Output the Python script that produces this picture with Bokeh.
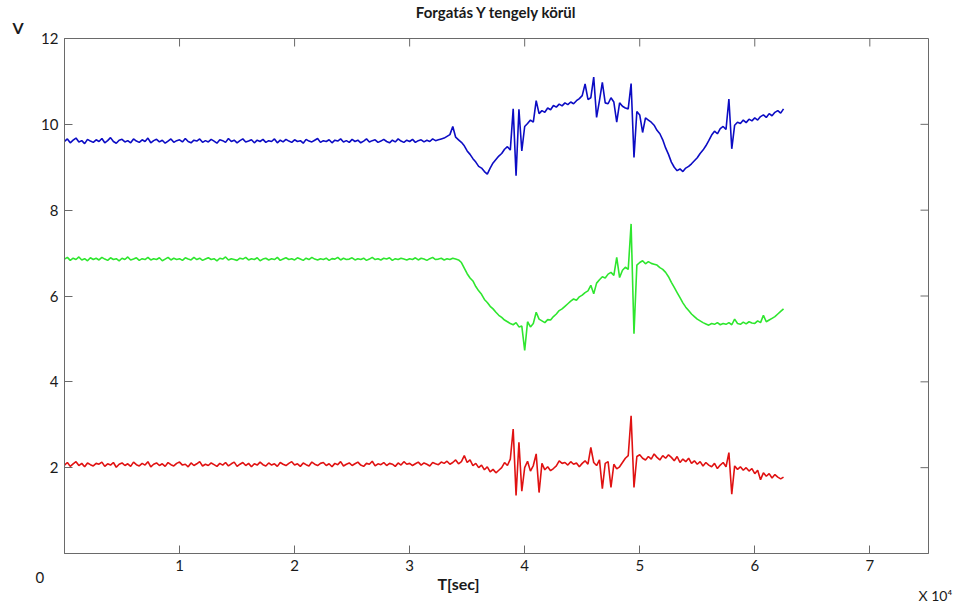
import numpy as np
from bokeh.plotting import figure
from bokeh.models import Range1d, FixedTicker, Title
from bokeh.embed import file_html
from bokeh.resources import INLINE

# sample times (x 10^4 sec), uniform sampling
t = np.round(np.arange(0, 6.2501, 0.025), 3)

blue_v = [
    9.60, 9.66, 9.57, 9.63, 9.68, 9.59, 9.62, 9.55, 9.65, 9.61,
    9.58, 9.64, 9.60, 9.67, 9.57, 9.62, 9.69, 9.60, 9.56, 9.63,
    9.65, 9.59, 9.62, 9.57, 9.66, 9.61, 9.58, 9.64, 9.60, 9.68,
    9.57, 9.62, 9.65, 9.59, 9.63, 9.56, 9.61, 9.66, 9.58, 9.62,
    9.64, 9.59, 9.67, 9.60, 9.57, 9.63, 9.61, 9.66, 9.58, 9.62,
    9.59, 9.65, 9.61, 9.56, 9.64, 9.62, 9.58, 9.67, 9.60, 9.63,
    9.57, 9.62, 9.66, 9.59, 9.61, 9.64, 9.57, 9.63, 9.60, 9.65,
    9.58, 9.62, 9.60, 9.66, 9.57, 9.63, 9.59, 9.65, 9.61, 9.58,
    9.64, 9.60, 9.62, 9.56, 9.65, 9.61, 9.59, 9.63, 9.67, 9.58,
    9.62, 9.60, 9.64, 9.57, 9.63, 9.61, 9.66, 9.59, 9.62, 9.58,
    9.65, 9.60, 9.63, 9.57, 9.61, 9.66, 9.59, 9.62, 9.64, 9.58,
    9.61, 9.65, 9.60, 9.57, 9.63, 9.59, 9.66, 9.61, 9.58, 9.63,
    9.60, 9.65, 9.58, 9.62, 9.64, 9.59, 9.63, 9.60, 9.66, 9.62,
    9.64, 9.66, 9.68, 9.72, 9.76, 9.95, 9.70, 9.64, 9.58, 9.50,
    9.38, 9.30, 9.20, 9.12, 9.02, 8.98, 8.90, 8.84, 8.98, 9.10,
    9.18, 9.26, 9.32, 9.42, 9.48, 9.40, 10.36, 8.80, 10.35, 9.38,
    9.95, 10.02, 10.10, 10.05, 10.55, 10.25, 10.32, 10.28, 10.38, 10.34,
    10.44, 10.40, 10.47, 10.43, 10.50, 10.46, 10.52, 10.48, 10.55, 10.60,
    10.67, 10.94, 10.58, 10.62, 11.10, 10.16, 10.55, 10.98, 10.50, 10.48,
    10.62, 10.52, 10.05, 10.50, 10.42, 10.38, 10.36, 10.95, 9.23, 10.30,
    10.22, 9.81, 10.15, 10.10, 10.05, 9.98, 9.86, 9.78, 9.64, 9.45,
    9.30, 9.12, 9.00, 8.92, 8.96, 8.90, 8.98, 9.02, 9.08, 9.15,
    9.22, 9.32, 9.40, 9.50, 9.62, 9.75, 9.84, 9.78, 9.90, 9.95,
    9.88, 10.59, 9.43, 9.98, 10.05, 10.02, 10.10, 10.04, 10.12, 10.08,
    10.15, 10.10, 10.18, 10.22, 10.16, 10.25, 10.20, 10.28, 10.32, 10.26,
    10.36,
]

green_v = [
    6.86, 6.90, 6.83, 6.88, 6.85, 6.91, 6.84, 6.87, 6.82, 6.89,
    6.85, 6.88, 6.84, 6.90, 6.86, 6.83, 6.89, 6.85, 6.87, 6.82,
    6.88, 6.85, 6.91, 6.84, 6.86, 6.89, 6.83, 6.87, 6.85, 6.90,
    6.84, 6.87, 6.85, 6.89, 6.82, 6.86, 6.90, 6.84, 6.88, 6.85,
    6.87, 6.83, 6.89, 6.86, 6.84, 6.90, 6.85, 6.88, 6.83, 6.86,
    6.89, 6.85, 6.87, 6.82, 6.88, 6.86, 6.91, 6.84, 6.87, 6.85,
    6.83, 6.88, 6.86, 6.90, 6.84, 6.87, 6.85, 6.89, 6.82, 6.86,
    6.88, 6.84, 6.87, 6.85, 6.90, 6.83, 6.86, 6.89, 6.85, 6.87,
    6.84, 6.89, 6.86, 6.83, 6.88, 6.85, 6.90, 6.86, 6.84, 6.87,
    6.85, 6.88, 6.83, 6.87, 6.86, 6.90, 6.84, 6.88, 6.85, 6.86,
    6.89, 6.84, 6.87, 6.85, 6.88, 6.83, 6.86, 6.90, 6.85, 6.87,
    6.84, 6.88, 6.86, 6.89, 6.83, 6.87, 6.85, 6.88, 6.86, 6.84,
    6.87, 6.85, 6.89, 6.84, 6.88, 6.86, 6.83, 6.87, 6.90, 6.85,
    6.86, 6.88, 6.84, 6.87, 6.85, 6.88, 6.86, 6.84, 6.78, 6.65,
    6.52, 6.42, 6.35, 6.22, 6.12, 6.04, 5.92, 5.85, 5.76, 5.70,
    5.62, 5.55, 5.50, 5.44, 5.40, 5.36, 5.33, 5.38, 5.28, 5.30,
    4.73, 5.40, 5.28, 5.36, 5.62, 5.46, 5.42, 5.38, 5.45, 5.44,
    5.52, 5.58, 5.66, 5.70, 5.76, 5.82, 5.88, 5.93, 5.90, 5.98,
    6.02, 6.08, 6.12, 6.25, 6.05, 6.30, 6.38, 6.45, 6.42, 6.51,
    6.55, 6.48, 6.90, 6.43, 6.60, 6.67, 6.62, 7.68, 5.12, 6.72,
    6.78, 6.82, 6.75, 6.80, 6.76, 6.74, 6.72, 6.66, 6.62, 6.55,
    6.45, 6.32, 6.20, 6.08, 5.96, 5.84, 5.74, 5.66, 5.58, 5.52,
    5.46, 5.42, 5.38, 5.35, 5.32, 5.36, 5.34, 5.38, 5.33, 5.36,
    5.34, 5.38, 5.33, 5.46, 5.36, 5.34, 5.39, 5.35, 5.40, 5.37,
    5.36, 5.42, 5.38, 5.55, 5.40, 5.44, 5.48, 5.52, 5.58, 5.64,
    5.70,
]

red_v = [
    2.06, 2.12, 2.03, 2.09, 2.14, 2.05, 2.10, 2.02, 2.11, 2.07,
    2.04, 2.10, 2.08, 2.13, 2.03, 2.09, 2.06, 2.12, 2.01, 2.08,
    2.11, 2.05, 2.09, 2.03, 2.13, 2.07, 2.04, 2.10, 2.06, 2.14,
    2.02, 2.08, 2.11, 2.05, 2.09, 2.03, 2.12, 2.07, 2.04, 2.10,
    2.13, 2.06, 2.08, 2.02, 2.11, 2.05, 2.09, 2.14, 2.04, 2.08,
    2.05, 2.11, 2.07, 2.03, 2.10, 2.06, 2.12, 2.04, 2.09, 2.13,
    2.03, 2.08, 2.12, 2.05, 2.10, 2.02, 2.09, 2.06, 2.13, 2.07,
    2.04, 2.11, 2.06, 2.09, 2.03, 2.12, 2.08, 2.05, 2.10, 2.14,
    2.06, 2.09, 2.03, 2.11, 2.07, 2.04, 2.13, 2.08, 2.05, 2.10,
    2.12, 2.05, 2.09, 2.02, 2.10, 2.07, 2.14, 2.04, 2.08, 2.11,
    2.05, 2.09, 2.13, 2.06, 2.03, 2.10, 2.08, 2.15, 2.04, 2.09,
    2.07, 2.12, 2.05, 2.10, 2.08, 2.03, 2.11, 2.06, 2.14, 2.08,
    2.10, 2.05, 2.09, 2.13, 2.06, 2.11, 2.08, 2.04, 2.12, 2.09,
    2.07, 2.13, 2.10, 2.15, 2.08, 2.12, 2.18, 2.09, 2.14, 2.28,
    2.12, 2.18, 2.05, 2.10, 2.00, 2.06, 1.95, 2.02, 1.90, 1.96,
    1.88, 1.94, 2.00, 2.12, 2.05, 2.20, 2.90, 1.35, 2.59, 1.45,
    2.00, 2.15, 1.92, 2.05, 2.32, 1.42, 2.10, 1.95, 2.02, 1.93,
    1.98, 2.04, 2.16, 2.10, 2.12, 2.06, 2.14, 2.08, 2.11, 2.02,
    2.10, 2.16, 2.08, 2.47, 2.12, 2.05, 2.18, 1.51, 2.10, 2.14,
    1.54, 2.08, 1.97, 2.02, 2.12, 2.22, 2.28, 3.21, 1.54, 2.26,
    2.30, 2.22, 2.18, 2.26, 2.20, 2.32, 2.24, 2.18, 2.28, 2.22,
    2.30, 2.24, 2.16, 2.26, 2.12, 2.20, 2.14, 2.22, 2.10, 2.16,
    2.08, 2.14, 2.04, 2.12, 2.06, 2.02, 2.10, 1.98, 2.06, 2.12,
    2.02, 2.35, 1.38, 2.04, 1.96, 2.02, 1.94, 2.00, 1.92, 1.98,
    1.86, 1.94, 1.72, 1.88, 1.80, 1.86, 1.76, 1.84, 1.78, 1.74,
    1.78,
]

x_ticks = [1, 2, 3, 4, 5, 6, 7]
y_ticks = [2, 4, 6, 8, 10, 12]

title_text = "Forgatás Y tengely körül"
x_label = "T[sec]"
y_label = "V"
x_scale_note = "X 10\u2074"
origin_label = "0"

FONT = "Lato"
AX_COLOR = "#6a6a6a"
TXT = "#1a1a1a"
X_MAX, Y_MAX = 7.51, 12

p = figure(width=967, height=602, output_backend="svg", toolbar_location=None,
           x_range=Range1d(0, X_MAX), y_range=Range1d(0, Y_MAX),
           min_border_left=64, min_border_right=39, min_border_top=38, min_border_bottom=49)
p.background_fill_color = "white"
p.border_fill_color = "white"
p.outline_line_color = AX_COLOR
p.outline_line_width = 1
p.grid.visible = False

p.line(t, blue_v, line_color="#0c0cc4", line_width=1.6)
p.line(t, green_v, line_color="#2ee62e", line_width=1.6)
p.line(t, red_v, line_color="#e01212", line_width=1.6)

for ax in p.xaxis:
    ax.ticker = FixedTicker(ticks=x_ticks)
for ax in p.yaxis:
    ax.ticker = FixedTicker(ticks=y_ticks)

for ax in list(p.xaxis) + list(p.yaxis):
    ax.axis_line_color = AX_COLOR
    ax.major_tick_line_color = AX_COLOR
    ax.major_tick_in = 8
    ax.major_tick_out = 0
    ax.minor_tick_line_color = None
    ax.major_label_text_font = FONT
    ax.major_label_text_font_size = "15px"
    ax.major_label_text_color = TXT
    ax.major_label_standoff = 6

# inward ticks on top and right edges of the box
p.ray(x=x_ticks, y=Y_MAX, length=8, length_units="screen", angle=-np.pi / 2,
      line_color=AX_COLOR, line_width=1)
p.ray(x=X_MAX, y=y_ticks, length=8, length_units="screen", angle=np.pi,
      line_color=AX_COLOR, line_width=1)

# title (outermost above) and the "V" unit label (closest above)
p.title.text = title_text
p.title.align = "center"
p.title.text_font = FONT
p.title.text_font_size = "15px"
p.title.text_font_style = "bold"
p.title.text_color = TXT
p.title.standoff = -13

def txt(text, side, offset, standoff, size, bold):
    p.add_layout(Title(text=text, align="left", offset=offset, standoff=standoff,
                       text_font=FONT, text_font_size=size, text_color=TXT,
                       text_font_style="bold" if bold else "normal"), side)

txt(y_label, "above", -52, 3, "16px", True)
txt(origin_label, "below", -29, -18, "15px", False)
txt(x_label, "below", 373, -3, "16px", True)
txt(x_scale_note, "below", 854, -14, "14px", False)

open("out.html", "w").write(file_html(p, INLINE))
